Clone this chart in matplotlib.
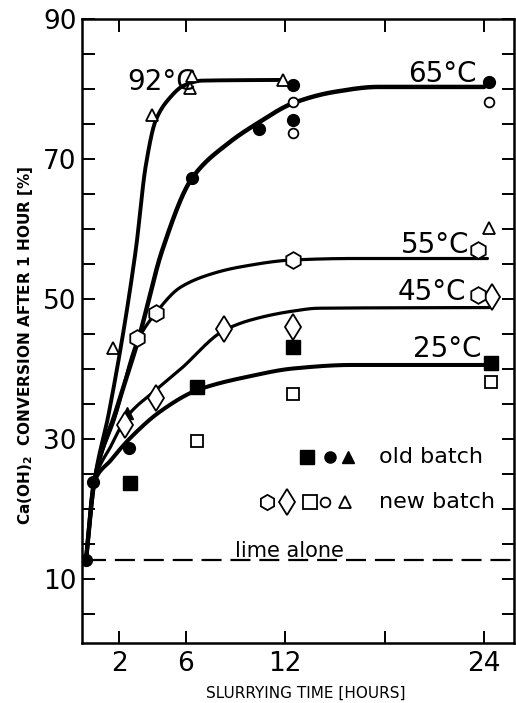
import numpy as np
import matplotlib
matplotlib.use("Agg")
import matplotlib.pyplot as plt

# curves (hours, % conversion)
c92_x = [0, 0.5, 1.4, 3.0, 3.6, 4.2, 5.0, 5.9, 7.0, 11.8]
c92_y = [12.7, 23.9, 34.0, 57.0, 69.0, 75.5, 78.6, 80.5, 81.2, 81.3]
c65_x = [0, 0.5, 1.8, 3.2, 4.6, 6.4, 8.6, 10.4, 12.5, 15.0, 17.6, 24.0]
c65_y = [12.7, 23.9, 34.0, 44.6, 57.0, 67.3, 72.3, 75.2, 78.0, 79.6, 80.3, 80.3]
c55_x = [0, 0.5, 1.8, 3.1, 4.2, 5.7, 7.7, 9.3, 12.5, 16.0, 24.2]
c55_y = [12.7, 23.9, 33.5, 44.0, 48.0, 51.7, 53.7, 54.6, 55.6, 55.8, 55.8]
c45_x = [0, 0.5, 1.5, 2.5, 4.2, 5.7, 8.3, 9.9, 12.5, 14.0, 24.3]
c45_y = [12.7, 23.9, 29.0, 33.3, 37.0, 40.0, 45.5, 47.0, 48.3, 48.7, 48.8]
c25_x = [0, 0.5, 1.5, 2.6, 4.5, 6.7, 9.9, 12.5, 16.0, 24.3]
c25_y = [12.7, 23.9, 27.0, 30.0, 34.0, 37.0, 39.0, 40.1, 40.6, 40.6]

# measured points
sq_old_x = [2.65, 6.7, 12.5, 24.4]
sq_old_y = [23.7, 37.4, 43.1, 40.9]
sq_new_x = [6.7, 12.5, 24.4]
sq_new_y = [29.7, 36.4, 38.1]
dia_new_x = [2.35, 4.2, 8.3, 12.5, 24.5]
dia_new_y = [32.0, 35.9, 45.7, 46.0, 50.3]
hex_new_x = [3.1, 4.2, 12.5, 23.6, 23.6]
hex_new_y = [44.4, 48.0, 55.6, 57.0, 50.6]
ci_old_x = [0, 0.45, 2.6, 6.4, 10.4, 12.5, 12.5, 24.3]
ci_old_y = [12.7, 23.9, 28.7, 67.3, 74.3, 80.6, 75.6, 81.0]
ci_new_x = [12.5, 12.5, 24.3]
ci_new_y = [78.1, 73.7, 78.1]
tr_old_x = [2.5]
tr_old_y = [33.7]
tr_new_x = [1.6, 4.0, 6.3, 6.4, 11.9, 24.3]
tr_new_y = [43.0, 76.3, 80.1, 81.9, 81.3, 60.1]

lime_alone = 12.7


def smooth(x, y, n=300):
    # monotone cubic (pchip) through the read points
    x = np.asarray(x, float)
    y = np.asarray(y, float)
    h = np.diff(x)
    delta = np.diff(y) / h
    d = np.zeros_like(y)
    for k in range(1, len(x) - 1):
        if delta[k - 1] * delta[k] > 0:
            w1 = 2 * h[k] + h[k - 1]
            w2 = h[k] + 2 * h[k - 1]
            d[k] = (w1 + w2) / (w1 / delta[k - 1] + w2 / delta[k])
    d[0] = delta[0]
    d[-1] = delta[-1]
    xs = np.linspace(x[0], x[-1], n)
    i = np.clip(np.searchsorted(x, xs) - 1, 0, len(x) - 2)
    t = (xs - x[i]) / h[i]
    h00 = 2 * t**3 - 3 * t**2 + 1
    h10 = t**3 - 2 * t**2 + t
    h01 = -2 * t**3 + 3 * t**2
    h11 = t**3 - t**2
    ys = h00 * y[i] + h10 * h[i] * d[i] + h01 * y[i + 1] + h11 * h[i] * d[i + 1]
    return xs, ys


fig = plt.figure(figsize=(5.16, 7.03), dpi=100)
ax = fig.add_axes([82 / 516, 1 - 643 / 703, 432 / 516, 624 / 703])

curves = [(c92_x, c92_y, 2.8), (c65_x, c65_y, 3.2), (c55_x, c55_y, 2.3),
          (c45_x, c45_y, 2.3), (c25_x, c25_y, 2.9)]
for cx, cy, lw in curves:
    xs, ys = smooth(cx, cy)
    ax.plot(xs, ys, color="black", lw=lw, solid_capstyle="round", zorder=2)

ax.axhline(lime_alone, xmin=0.01, color="black", lw=1.6, dashes=(9, 4), zorder=1)
ax.text(9.0, 13.2, "lime alone", fontsize=15, ha="left", va="baseline")

mk = dict(linestyle="none", color="black", zorder=3)
ax.plot(sq_old_x, sq_old_y, marker="s", ms=9.5, mfc="black", **mk)
ax.plot(ci_old_x, ci_old_y, marker="o", ms=8.5, mfc="black", **mk)
ax.plot(tr_old_x, tr_old_y, marker="^", ms=9, mfc="black", **mk)
ax.plot(sq_new_x, sq_new_y, marker="s", ms=9, mfc="white", mew=1.3, **mk)
ax.plot(dia_new_x, dia_new_y, marker="d", ms=13, mfc="white", mew=1.3, **mk)
ax.plot(hex_new_x, hex_new_y, marker="h", ms=12, mfc="white", mew=1.3, **mk)
ax.plot(ci_new_x, ci_new_y, marker="o", ms=7, mfc="white", mew=1.3, **mk)
ax.plot(tr_new_x, tr_new_y, marker="^", ms=9, mfc="white", mew=1.3, **mk)

# temperature labels
for tx, ty, s in [(2.5, 79.9, "92°C"), (19.4, 81.0, "65°C"), (19.0, 56.6, "55°C"),
                  (18.8, 49.9, "45°C"), (19.7, 41.7, "25°C")]:
    ax.text(tx, ty, s, fontsize=20, ha="left", va="baseline")

# legend drawn by hand
tf = ax.transAxes
for lx, m, ms in [(0.521, "s", 9.5), (0.575, "o", 8), (0.616, "^", 9)]:
    ax.plot(lx, 0.298, marker=m, ms=ms, color="black", mfc="black",
            transform=tf, clip_on=False)
for lx, m, ms in [(0.428, "h", 11), (0.475, "d", 13), (0.528, "s", 9.5),
                  (0.563, "o", 7), (0.609, "^", 9)]:
    ax.plot(lx, 0.226, marker=m, ms=ms, color="black", mfc="white", mew=1.3,
            transform=tf, clip_on=False)
ax.text(0.688, 0.298, "old batch", fontsize=16, ha="left", va="center", transform=tf)
ax.text(0.688, 0.226, "new batch", fontsize=16, ha="left", va="center", transform=tf)

ax.set_xlim(-0.24, 25.8)
ax.set_ylim(0.9, 90)
ax.set_xticks([2, 6, 12, 18, 24])
ax.set_xticklabels(["2", "6", "12", "", "24"])
ax.set_yticks(np.arange(5, 91, 5))
ax.set_yticklabels([str(v) if v % 20 == 10 else "" for v in range(5, 91, 5)])
ax.tick_params(direction="in", length=9, width=1.4, top=True, right=True,
               labelsize=19, pad=4)
ax.tick_params(axis="x", pad=6)
for sp in ax.spines.values():
    sp.set_linewidth(1.8)

fig.text(306 / 516, 1 - 693 / 703, "SLURRYING TIME [HOURS]", fontsize=11,
         ha="center", va="center")
fig.text(0.05, 0.509, r"Ca(OH)$_\mathbf{2}$  CONVERSION AFTER 1 HOUR [%]",
         rotation=90, fontsize=11, fontweight="bold", ha="center", va="center")

fig.savefig("out.png", dpi=100)
